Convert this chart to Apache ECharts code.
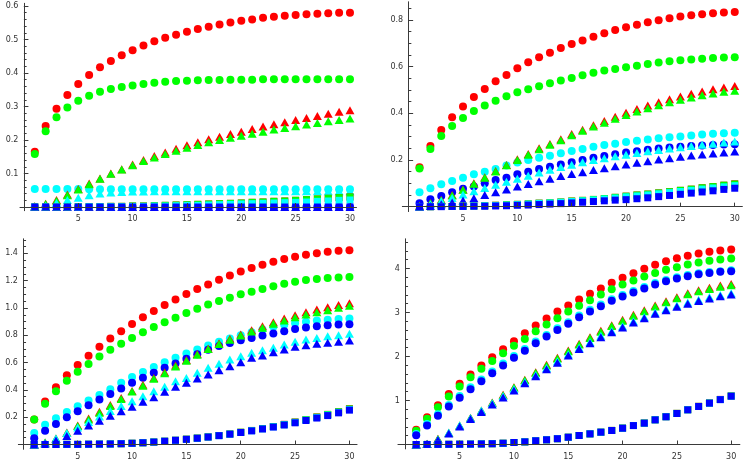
<!DOCTYPE html>
<html>
<head>
<meta charset="utf-8">
<script src="https://cdn.jsdelivr.net/npm/echarts@6/dist/echarts.min.js"></script>
<style>
html, body { margin: 0; padding: 0; background: #fff; }
#main { width: 747px; height: 463px; }
</style>
</head>
<body>
<div id="main"></div>
<script>
// x positions shared by every series
var xs = [1,2,3,4,5,6,7,8,9,10,11,12,13,14,15,16,17,18,19,20,21,22,23,24,25,26,27,28,29,30];
var xTicks = [5,10,15,20,25,30];

// tick labels of the four panels
var p1YTicks = [0.1,0.2,0.3,0.4,0.5,0.6];
var p2YTicks = [0.2,0.4,0.6,0.8];
var p3YTicks = [0.2,0.4,0.6,0.8,1.0,1.2,1.4];
var p4YTicks = [1,2,3,4];

// top left
var p1RedCircle = [0.165,0.242,0.293,0.334,0.367,0.394,0.417,0.436,0.453,0.468,0.482,0.495,0.505,0.514,0.523,0.531,0.538,0.545,0.551,0.556,0.560,0.565,0.568,0.571,0.573,0.575,0.577,0.578,0.580,0.580];
var p1GreenCircle = [0.158,0.226,0.268,0.297,0.317,0.332,0.344,0.352,0.358,0.363,0.367,0.371,0.374,0.376,0.377,0.378,0.379,0.379,0.380,0.380,0.380,0.381,0.381,0.381,0.381,0.381,0.381,0.381,0.381,0.381];
var p1CyanCircle = [0.054,0.054,0.054,0.054,0.054,0.053,0.053,0.053,0.053,0.053,0.053,0.053,0.053,0.053,0.053,0.053,0.053,0.053,0.053,0.053,0.053,0.053,0.053,0.053,0.053,0.053,0.053,0.053,0.053,0.053];
var p1BlueCircle = [0,0,0,0,0,0,0,0,0,0,0,0,0,0,0,0,0,0,0,0,0,0,0,0,0,0,0,0,0,0];
var p1RedTriangle = [0.002,0.010,0.021,0.037,0.054,0.070,0.085,0.100,0.113,0.127,0.140,0.152,0.163,0.174,0.184,0.193,0.202,0.210,0.218,0.225,0.233,0.240,0.247,0.253,0.260,0.266,0.272,0.278,0.284,0.289];
var p1GreenTriangle = [0.002,0.009,0.019,0.035,0.052,0.068,0.084,0.099,0.112,0.125,0.137,0.148,0.158,0.168,0.177,0.185,0.193,0.200,0.207,0.213,0.219,0.225,0.231,0.236,0.241,0.246,0.251,0.256,0.260,0.264];
var p1CyanTriangle = [0,0.004,0.012,0.021,0.028,0.035,0.040,0.043,0.045,0.046,0.046,0.047,0.047,0.047,0.047,0.047,0.047,0.047,0.047,0.047,0.047,0.047,0.047,0.047,0.047,0.047,0.047,0.047,0.047,0.047];
var p1BlueTriangle = [0,0,0,0,0,0,0,0,0,0,0,0,0,0,0,0,0,0,0,0,0,0,0,0,0,0,0,0,0,0];
var p1RedSquare = [0,0,0,0,0.001,0.001,0.001,0.002,0.002,0.003,0.003,0.004,0.005,0.006,0.007,0.008,0.009,0.010,0.011,0.012,0.014,0.015,0.017,0.018,0.020,0.022,0.024,0.026,0.028,0.030];
var p1GreenSquare = [0,0,0,0,0.001,0.001,0.001,0.002,0.002,0.003,0.003,0.004,0.005,0.006,0.007,0.008,0.009,0.010,0.011,0.012,0.014,0.015,0.017,0.018,0.020,0.022,0.024,0.026,0.028,0.030];
var p1CyanSquare = [0,0,0,0,0,0.001,0.001,0.001,0.001,0.002,0.002,0.003,0.003,0.004,0.005,0.005,0.006,0.007,0.008,0.009,0.010,0.011,0.012,0.013,0.014,0.015,0.017,0.018,0.020,0.021];
var p1BlueSquare = [0,0,0,0,0,0,0,0,0,0,0,0,0,0,0,0,0,0,0,0,0,0,0,0,0,0,0,0,0,0];

// top right
var p2RedCircle = [0.169,0.260,0.329,0.383,0.429,0.470,0.504,0.537,0.564,0.593,0.619,0.640,0.660,0.680,0.697,0.712,0.728,0.743,0.757,0.769,0.780,0.790,0.799,0.807,0.815,0.820,0.824,0.829,0.832,0.834];
var p2GreenCircle = [0.164,0.247,0.303,0.346,0.380,0.410,0.434,0.454,0.473,0.490,0.503,0.516,0.529,0.541,0.551,0.563,0.574,0.583,0.590,0.597,0.604,0.611,0.618,0.623,0.627,0.631,0.634,0.637,0.639,0.640];
var p2CyanCircle = [0.062,0.079,0.096,0.110,0.124,0.139,0.150,0.161,0.176,0.189,0.200,0.210,0.218,0.229,0.239,0.247,0.257,0.264,0.270,0.277,0.283,0.288,0.293,0.297,0.301,0.305,0.309,0.312,0.315,0.317];
var p2BlueCircle = [0.015,0.032,0.046,0.062,0.077,0.086,0.100,0.114,0.124,0.139,0.150,0.161,0.171,0.181,0.190,0.200,0.210,0.217,0.225,0.232,0.238,0.244,0.249,0.254,0.257,0.260,0.262,0.264,0.266,0.267];
var p2RedTriangle = [0.004,0.016,0.030,0.050,0.074,0.100,0.126,0.153,0.179,0.203,0.226,0.250,0.269,0.289,0.311,0.330,0.349,0.367,0.385,0.402,0.418,0.433,0.447,0.460,0.472,0.484,0.494,0.503,0.511,0.517];
var p2GreenTriangle = [0.003,0.015,0.028,0.048,0.072,0.098,0.124,0.151,0.177,0.200,0.223,0.246,0.265,0.285,0.306,0.325,0.343,0.360,0.377,0.393,0.408,0.422,0.435,0.447,0.458,0.468,0.477,0.485,0.492,0.497];
var p2CyanTriangle = [0,0.010,0.024,0.037,0.052,0.066,0.080,0.094,0.107,0.120,0.133,0.146,0.158,0.170,0.180,0.190,0.200,0.208,0.216,0.223,0.230,0.237,0.243,0.249,0.255,0.260,0.265,0.270,0.275,0.279];
var p2BlueTriangle = [0,0.003,0.010,0.018,0.026,0.036,0.050,0.062,0.074,0.086,0.097,0.109,0.120,0.131,0.140,0.148,0.157,0.165,0.173,0.181,0.188,0.195,0.202,0.208,0.214,0.219,0.224,0.228,0.232,0.236];
var p2RedSquare = [0,0,0.001,0.001,0.002,0.003,0.004,0.006,0.008,0.010,0.012,0.015,0.017,0.020,0.024,0.027,0.031,0.035,0.040,0.045,0.050,0.054,0.059,0.064,0.070,0.075,0.081,0.086,0.092,0.098];
var p2GreenSquare = [0,0,0.001,0.001,0.002,0.003,0.004,0.006,0.008,0.010,0.012,0.015,0.017,0.020,0.024,0.027,0.031,0.035,0.040,0.045,0.050,0.054,0.059,0.064,0.070,0.075,0.081,0.086,0.092,0.097];
var p2CyanSquare = [0,0,0.001,0.001,0.002,0.003,0.004,0.005,0.007,0.009,0.011,0.014,0.016,0.019,0.022,0.025,0.029,0.033,0.037,0.042,0.046,0.050,0.055,0.060,0.065,0.070,0.075,0.080,0.085,0.090];
var p2BlueSquare = [0,0,0,0.001,0.001,0.002,0.002,0.003,0.004,0.006,0.007,0.009,0.011,0.013,0.016,0.019,0.022,0.025,0.028,0.030,0.034,0.038,0.043,0.048,0.053,0.058,0.063,0.068,0.074,0.079];

// bottom left
var p3RedCircle = [0.183,0.315,0.420,0.507,0.583,0.651,0.717,0.776,0.829,0.882,0.932,0.978,1.022,1.063,1.102,1.139,1.173,1.207,1.239,1.268,1.293,1.317,1.339,1.359,1.376,1.390,1.402,1.412,1.420,1.424];
var p3GreenCircle = [0.183,0.298,0.390,0.468,0.534,0.590,0.644,0.695,0.739,0.780,0.822,0.861,0.895,0.929,0.963,0.995,1.025,1.051,1.076,1.100,1.120,1.139,1.159,1.177,1.193,1.205,1.213,1.220,1.224,1.227];
var p3CyanCircle = [0.085,0.144,0.193,0.239,0.280,0.322,0.363,0.405,0.452,0.494,0.532,0.567,0.603,0.635,0.667,0.696,0.725,0.752,0.777,0.800,0.822,0.843,0.862,0.877,0.889,0.900,0.908,0.914,0.919,0.923];
var p3BlueCircle = [0.046,0.100,0.151,0.200,0.244,0.288,0.329,0.371,0.410,0.452,0.489,0.525,0.562,0.593,0.628,0.662,0.694,0.722,0.744,0.763,0.781,0.799,0.814,0.830,0.846,0.858,0.867,0.874,0.879,0.881];
var p3RedTriangle = [0,0.015,0.045,0.088,0.140,0.190,0.240,0.290,0.340,0.392,0.437,0.487,0.530,0.578,0.620,0.663,0.704,0.741,0.774,0.806,0.838,0.866,0.896,0.923,0.947,0.969,0.990,1.006,1.022,1.035];
var p3GreenTriangle = [0,0.014,0.043,0.085,0.135,0.183,0.232,0.283,0.333,0.388,0.430,0.481,0.523,0.572,0.613,0.657,0.699,0.736,0.768,0.798,0.828,0.855,0.884,0.909,0.932,0.952,0.969,0.984,1.001,1.017];
var p3CyanTriangle = [0,0.012,0.045,0.085,0.125,0.165,0.205,0.245,0.282,0.317,0.354,0.390,0.423,0.464,0.488,0.525,0.562,0.591,0.623,0.647,0.672,0.691,0.708,0.733,0.752,0.769,0.781,0.793,0.801,0.811];
var p3BlueTriangle = [0,0.006,0.030,0.062,0.100,0.140,0.175,0.210,0.243,0.276,0.313,0.347,0.386,0.423,0.452,0.483,0.513,0.544,0.574,0.603,0.635,0.652,0.676,0.696,0.716,0.728,0.738,0.745,0.752,0.762];
var p3RedSquare = [0,0,0,0.001,0.001,0.002,0.003,0.004,0.006,0.009,0.013,0.018,0.024,0.031,0.039,0.047,0.056,0.066,0.077,0.090,0.103,0.117,0.132,0.148,0.165,0.183,0.202,0.221,0.241,0.262];
var p3GreenSquare = [0,0,0,0.001,0.001,0.002,0.003,0.004,0.006,0.009,0.013,0.018,0.024,0.031,0.039,0.047,0.056,0.066,0.077,0.090,0.103,0.117,0.132,0.147,0.164,0.182,0.201,0.220,0.240,0.261];
var p3CyanSquare = [0,0,0,0.001,0.001,0.002,0.003,0.004,0.006,0.009,0.013,0.018,0.024,0.031,0.038,0.046,0.055,0.065,0.076,0.089,0.101,0.115,0.130,0.145,0.162,0.179,0.198,0.216,0.236,0.256];
var p3BlueSquare = [0,0,0,0.001,0.001,0.002,0.003,0.004,0.006,0.009,0.013,0.018,0.024,0.031,0.038,0.046,0.055,0.065,0.076,0.088,0.100,0.114,0.128,0.143,0.159,0.176,0.194,0.212,0.232,0.252];

// bottom right
var p4RedCircle = [0.333,0.620,0.894,1.150,1.380,1.590,1.795,1.985,2.167,2.348,2.530,2.705,2.864,3.023,3.159,3.295,3.424,3.545,3.674,3.788,3.894,3.992,4.083,4.167,4.235,4.288,4.340,4.379,4.409,4.432];
var p4GreenCircle = [0.310,0.583,0.848,1.090,1.318,1.530,1.720,1.900,2.076,2.242,2.400,2.576,2.727,2.871,3.023,3.152,3.280,3.410,3.530,3.636,3.727,3.818,3.900,3.970,4.030,4.090,4.136,4.174,4.205,4.227];
var p4CyanCircle = [0.240,0.465,0.690,0.900,1.100,1.300,1.480,1.660,1.840,2.010,2.170,2.340,2.490,2.640,2.780,2.930,3.060,3.180,3.300,3.400,3.490,3.580,3.670,3.740,3.800,3.850,3.890,3.920,3.940,3.960];
var p4BlueCircle = [0.212,0.432,0.652,0.864,1.060,1.258,1.440,1.620,1.795,1.970,2.130,2.300,2.455,2.600,2.742,2.894,3.023,3.144,3.265,3.364,3.455,3.545,3.636,3.712,3.773,3.826,3.871,3.900,3.924,3.940];
var p4RedTriangle = [0,0.015,0.130,0.265,0.430,0.606,0.773,0.955,1.129,1.303,1.470,1.644,1.810,1.970,2.136,2.288,2.440,2.583,2.712,2.833,2.947,3.053,3.159,3.258,3.348,3.440,3.508,3.560,3.614,3.650];
var p4GreenTriangle = [0,0.014,0.127,0.260,0.424,0.600,0.766,0.947,1.120,1.293,1.459,1.632,1.797,1.956,2.121,2.272,2.423,2.565,2.693,2.813,2.926,3.031,3.136,3.234,3.323,3.414,3.481,3.533,3.586,3.621];
var p4CyanTriangle = [0,0.012,0.115,0.270,0.435,0.605,0.770,0.940,1.100,1.260,1.420,1.580,1.740,1.890,2.050,2.200,2.330,2.470,2.580,2.690,2.800,2.900,3.000,3.080,3.160,3.230,3.290,3.350,3.400,3.440];
var p4BlueTriangle = [0,0.010,0.100,0.250,0.410,0.580,0.740,0.910,1.070,1.230,1.390,1.550,1.710,1.860,2.020,2.170,2.300,2.440,2.550,2.660,2.770,2.870,2.970,3.050,3.130,3.200,3.260,3.320,3.370,3.410];
var p4RedSquare = [0,0.001,0.002,0.004,0.006,0.009,0.013,0.018,0.028,0.045,0.060,0.085,0.107,0.132,0.165,0.205,0.242,0.280,0.320,0.372,0.432,0.488,0.563,0.633,0.708,0.792,0.868,0.945,1.025,1.104];
var p4GreenSquare = [0,0.001,0.002,0.004,0.006,0.009,0.013,0.018,0.028,0.045,0.060,0.085,0.107,0.132,0.165,0.205,0.242,0.280,0.320,0.372,0.432,0.487,0.562,0.632,0.707,0.790,0.866,0.943,1.023,1.102];
var p4CyanSquare = [0,0.001,0.002,0.004,0.006,0.009,0.013,0.018,0.028,0.045,0.060,0.085,0.107,0.132,0.165,0.205,0.242,0.280,0.319,0.371,0.431,0.486,0.561,0.631,0.706,0.789,0.865,0.941,1.021,1.100];
var p4BlueSquare = [0,0.001,0.002,0.004,0.006,0.009,0.013,0.018,0.028,0.045,0.060,0.085,0.107,0.132,0.165,0.205,0.242,0.280,0.318,0.370,0.430,0.485,0.560,0.630,0.705,0.788,0.864,0.940,1.020,1.098];

var RED = '#ff0000', GREEN = '#00ff00', CYAN = '#00ffff', BLUE = '#0000ff';
var shapes = {
    circle: { symbol: 'circle', size: 8 },
    triangle: { symbol: 'triangle', size: [9, 8] },
    square: { symbol: 'rect', size: 7 }
};

var panels = [
    { box: { left: 20, top: 3.3, width: 336.5, height: 207.4 }, x: [-0.36, 30.6], y: [-0.011, 0.608],
      yTicks: p1YTicks, yMinor: 0.02, digits: 1,
      sets: [[p1RedCircle, RED, 'circle'], [p1GreenCircle, GREEN, 'circle'], [p1CyanCircle, CYAN, 'circle'], [p1BlueCircle, BLUE, 'circle'],
             [p1RedTriangle, RED, 'triangle'], [p1GreenTriangle, GREEN, 'triangle'], [p1CyanTriangle, CYAN, 'triangle'], [p1BlueTriangle, BLUE, 'triangle'],
             [p1RedSquare, RED, 'square'], [p1GreenSquare, GREEN, 'square'], [p1CyanSquare, CYAN, 'square'], [p1BlueSquare, BLUE, 'square']] },
    { box: { left: 402.35, top: 1.77, width: 340.0, height: 209.8 }, x: [-0.58, 30.7], y: [-0.021, 0.878],
      yTicks: p2YTicks, yMinor: 0.05, digits: 1,
      sets: [[p2RedCircle, RED, 'circle'], [p2GreenCircle, GREEN, 'circle'], [p2CyanCircle, CYAN, 'circle'], [p2BlueCircle, BLUE, 'circle'],
             [p2RedTriangle, RED, 'triangle'], [p2GreenTriangle, GREEN, 'triangle'], [p2CyanTriangle, CYAN, 'triangle'], [p2BlueTriangle, BLUE, 'triangle'],
             [p2RedSquare, RED, 'square'], [p2GreenSquare, GREEN, 'square'], [p2CyanSquare, CYAN, 'square'], [p2BlueSquare, BLUE, 'square']] },
    { box: { left: 18.35, top: 238.8, width: 338.7, height: 210.5 }, x: [-0.46, 30.7], y: [-0.035, 1.507],
      yTicks: p3YTicks, yMinor: 0.05, digits: 1,
      sets: [[p3RedCircle, RED, 'circle'], [p3GreenCircle, GREEN, 'circle'], [p3CyanCircle, CYAN, 'circle'], [p3BlueCircle, BLUE, 'circle'],
             [p3RedTriangle, RED, 'triangle'], [p3GreenTriangle, GREEN, 'triangle'], [p3CyanTriangle, CYAN, 'triangle'], [p3BlueTriangle, BLUE, 'triangle'],
             [p3RedSquare, RED, 'square'], [p3GreenSquare, GREEN, 'square'], [p3CyanSquare, CYAN, 'square'], [p3BlueSquare, BLUE, 'square']] },
    { box: { left: 397.97, top: 238.8, width: 341.9, height: 210.1 }, x: [-0.68, 30.8], y: [-0.1, 4.675],
      yTicks: p4YTicks, yMinor: 0.2, digits: 0,
      sets: [[p4RedCircle, RED, 'circle'], [p4GreenCircle, GREEN, 'circle'], [p4CyanCircle, CYAN, 'circle'], [p4BlueCircle, BLUE, 'circle'],
             [p4RedTriangle, RED, 'triangle'], [p4GreenTriangle, GREEN, 'triangle'], [p4CyanTriangle, CYAN, 'triangle'], [p4BlueTriangle, BLUE, 'triangle'],
             [p4RedSquare, RED, 'square'], [p4GreenSquare, GREEN, 'square'], [p4CyanSquare, CYAN, 'square'], [p4BlueSquare, BLUE, 'square']] }
];

var axisColor = '#3a3a3a';
var labelStyle = { fontFamily: 'DejaVu Sans', fontSize: 8, color: '#333' };

var grids = [], xAxes = [], yAxes = [], series = [];

panels.forEach(function (p, k) {
    grids.push(p.box);
    var xPerUnit = p.box.width / (p.x[1] - p.x[0]);
    var yPerUnit = p.box.height / (p.y[1] - p.y[0]);
    var minor = [];
    for (var v = p.yMinor; v < p.y[1]; v += p.yMinor) minor.push(+v.toFixed(4));

    // main x axis: line at y = 0, labels and major ticks
    xAxes.push({
        gridIndex: k, type: 'value', min: p.x[0], max: p.x[1], z: 5,
        axisLine: { show: true, onZero: true, lineStyle: { color: axisColor, width: 1 } },
        axisTick: { show: true, inside: true, length: 4, customValues: xTicks, lineStyle: { color: axisColor } },
        axisLabel: Object.assign({ show: true, customValues: xTicks, margin: 8 - (0 - p.y[0]) * yPerUnit }, labelStyle),
        splitLine: { show: false }
    });
    // helper x axis so that the minor y axis can sit on x = 0 too
    xAxes.push({ gridIndex: k, type: 'value', min: p.x[0], max: p.x[1], show: false, splitLine: { show: false } });

    var digits = p.digits;
    yAxes.push({
        gridIndex: k, type: 'value', position: 'left', min: p.y[0], max: p.y[1], z: 5,
        axisLine: { show: true, onZero: true, lineStyle: { color: axisColor, width: 1 } },
        axisTick: { show: true, inside: true, length: 4.5, customValues: p.yTicks, lineStyle: { color: axisColor } },
        axisLabel: Object.assign({
            show: true,
            customValues: p.yTicks,
            margin: 5.5 - (0 - p.x[0]) * xPerUnit,
            formatter: function (val) { return val.toFixed(digits); }
        }, labelStyle),
        splitLine: { show: false }
    });
    yAxes.push({
        gridIndex: k, type: 'value', position: 'left', min: p.y[0], max: p.y[1], z: 5,
        axisLine: { show: false, onZero: true },
        axisTick: { show: true, inside: true, length: 2.7, customValues: minor, lineStyle: { color: axisColor } },
        axisLabel: { show: false },
        splitLine: { show: false }
    });

    p.sets.forEach(function (s) {
        var sh = shapes[s[2]];
        series.push({
            type: 'scatter',
            xAxisIndex: 2 * k,
            yAxisIndex: 2 * k,
            symbol: sh.symbol,
            symbolSize: sh.size,
            itemStyle: { color: s[1], opacity: 1 },
            data: xs.map(function (x, i) { return [x, s[0][i]]; })
        });
    });
});

var myChart = echarts.init(document.getElementById('main'));
myChart.setOption({
    animation: false,
    backgroundColor: '#fff',
    grid: grids,
    xAxis: xAxes,
    yAxis: yAxes,
    series: series
});
</script>
</body>
</html>
